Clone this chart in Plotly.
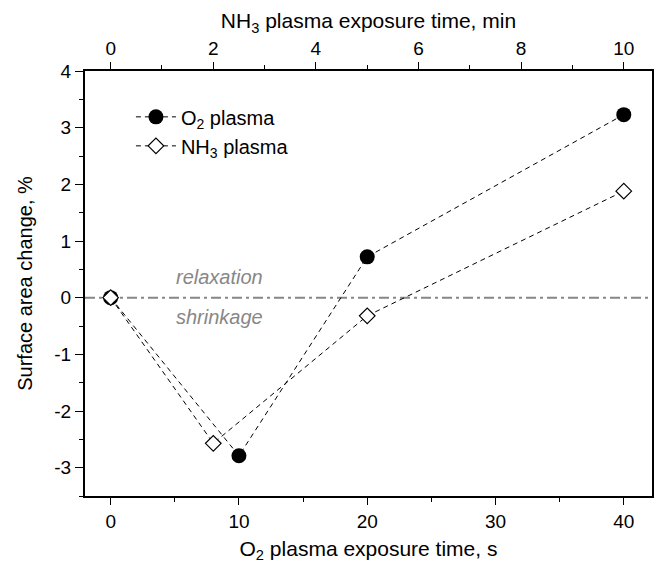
import plotly.graph_objects as go

# Data
o2_time_s = [0, 10, 20, 40]
o2_change = [0.0, -2.79, 0.72, 3.23]
nh3_time_min = [0, 2, 5, 10]
nh3_change = [0.0, -2.57, -0.32, 1.88]
zero_level = 0

x_s_ticks = [0, 10, 20, 30, 40]
x_min_ticks = [0, 2, 4, 6, 8, 10]
y_tick_vals = [-3, -2, -1, 0, 1, 2, 3, 4]
y_tick_text = ["-3", "-2", "-1", "0", "1", "2", "3", "4"]

FONT = "Liberation Sans, Arial, sans-serif"
GRAY = "#878787"

fig = go.Figure()

fig.add_trace(go.Scatter(
    x=o2_time_s, y=o2_change, mode="lines+markers", name="O<sub>2</sub> plasma",
    line=dict(color="black", width=1, dash="5px,4px"),
    marker=dict(symbol="circle", size=15, color="black"),
    xaxis="x", yaxis="y",
))
fig.add_trace(go.Scatter(
    x=nh3_time_min, y=nh3_change, mode="lines+markers", name="NH<sub>3</sub> plasma",
    line=dict(color="black", width=1, dash="5px,4px"),
    marker=dict(symbol="diamond", size=12, color="white", line=dict(color="black", width=1.2)),
    xaxis="x2", yaxis="y",
))

fig.add_shape(type="line", xref="paper", x0=0, x1=1, yref="y", y0=zero_level, y1=zero_level,
              line=dict(color=GRAY, width=2, dash="10px,4px,3px,4px"), layer="below")

fig.add_annotation(x=8.5, y=0.36, xref="x", yref="y", text="<i>relaxation</i>", showarrow=False,
                   yanchor="middle", font=dict(family=FONT, size=20, color=GRAY))
fig.add_annotation(x=8.5, y=-0.34, xref="x", yref="y", text="<i>shrinkage</i>", showarrow=False,
                   yanchor="middle", font=dict(family=FONT, size=20, color=GRAY))

fig.update_layout(
    width=658, height=563,
    margin=dict(l=85, r=6, t=71, b=67),
    plot_bgcolor="white", paper_bgcolor="white",
    font=dict(family=FONT, size=19, color="black"),
    showlegend=True,
    legend=dict(x=0.081, y=0.938, xanchor="left", yanchor="top", bgcolor="rgba(0,0,0,0)",
                font=dict(family=FONT, size=20), itemwidth=40),
    xaxis=dict(
        range=[-2, 42.2], tickvals=x_s_ticks, showgrid=False, zeroline=False, automargin=False,
        showline=True, linecolor="black", linewidth=1.5,
        ticks="outside", ticklen=7, tickwidth=1.2, tickcolor="black",
        minor=dict(tickvals=[5, 15, 25, 35], ticks="outside", ticklen=4, tickwidth=1.2, tickcolor="black"),
        title=dict(text="O<sub>2</sub> plasma exposure time, s", font=dict(size=21), standoff=12),
        tickfont=dict(size=19),
    ),
    xaxis2=dict(
        range=[-0.5, 10.55], tickvals=x_min_ticks, overlaying="x", side="top", automargin=False,
        showgrid=False, zeroline=False, showline=True, linecolor="black", linewidth=1.5,
        ticks="outside", ticklen=7, tickwidth=1.2, tickcolor="black",
        minor=dict(tickvals=[1, 3, 5, 7, 9], ticks="outside", ticklen=4, tickwidth=1.2, tickcolor="black"),
        title=dict(text="NH<sub>3</sub> plasma exposure time, min", font=dict(size=21), standoff=3),
        tickfont=dict(size=19),
    ),
    yaxis=dict(
        range=[-3.5, 4], tickvals=y_tick_vals, ticktext=y_tick_text, showgrid=False, zeroline=False,
        automargin=False,
        showline=True, linecolor="black", linewidth=2, mirror=True,
        ticks="outside", ticklen=8, tickwidth=1.2, tickcolor="black",
        minor=dict(tickvals=[-3.5, -2.5, -1.5, -0.5, 0.5, 1.5, 2.5, 3.5], ticks="outside",
                   ticklen=4, tickwidth=1.2, tickcolor="black"),
        title=dict(text="Surface area change, %", font=dict(size=20), standoff=16),
        tickfont=dict(size=19),
    ),
)

fig.write_html("out.html", config={"displayModeBar": False},
               post_script="document.body.style.margin='0';")
